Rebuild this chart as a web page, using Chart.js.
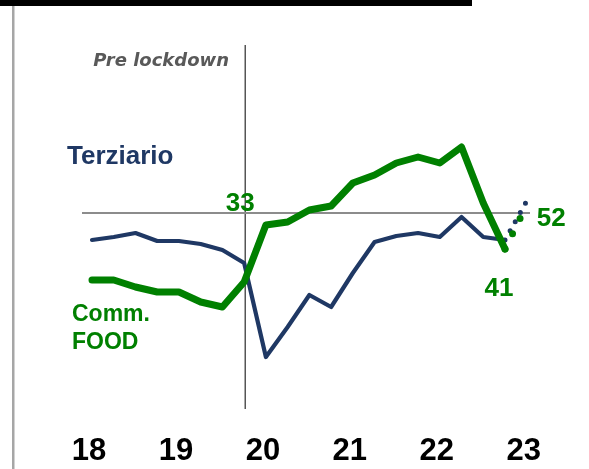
<!DOCTYPE html>
<html><head><meta charset="utf-8">
<script src="https://cdn.jsdelivr.net/npm/chart.js@4.4.0/dist/chart.umd.min.js"></script>
<style>html,body{margin:0;padding:0;background:#fff;overflow:hidden}</style>
</head><body>
<canvas id="c" width="589" height="469"></canvas>
<script>
// quarterly index: 0 = Q1 2018 ... 19 = Q4 2022, 20 = Q1 2023
const yearLabels = ['18','19','20','21','22','23'];
const yearTicks = [0, 4, 8, 12, 16, 20];
const commFood = [33.25,33.25,31.5,30.25,30.25,27.75,26.5,32.75,47,47.75,50.75,51.75,57.5,59.5,62.5,64,62.5,66.5,52.5,41];
const terziario = [43.25,44,45,43,43,42.25,40.75,37.5,14,21.5,29.5,26.5,35,42.75,44.25,45,44,49,44,43.25];
const projQuarter = 20;
const commFoodProj = 52;
const terziarioProj = 53;
const refLevel = 50;
const lockdownQuarter = 7.05;
const preLockIndex = 7;

const GREEN = '#008000', NAVY = '#1F3864';
const toXY = arr => arr.map((v, i) => ({x: i, y: v}));
const last = commFood.length - 1;

const deco = {
  id: 'deco',
  beforeDraw(chart) {
    const c = chart.ctx;
    c.save();
    c.fillStyle = '#000';
    c.fillRect(0, 0, 472, 6);
    c.fillStyle = '#a6a6a6';
    c.fillRect(12, 6, 2.5, 463);
    c.restore();
  },
  afterDraw(chart) {
    const c = chart.ctx, xs = chart.scales.x, ys = chart.scales.y;
    c.save();
    c.textBaseline = 'alphabetic';
    c.fillStyle = '#595959';
    c.font = 'italic bold 18px "DejaVu Sans"';
    c.textAlign = 'right';
    c.fillText('Pre lockdown', 229, 66);
    c.textAlign = 'left';
    c.fillStyle = NAVY;
    c.font = 'bold 26px "Liberation Sans"';
    c.fillText('Terziario', 67, 164);
    c.fillStyle = GREEN;
    c.font = 'bold 23px "Liberation Sans"';
    c.fillText('Comm.', 72, 321);
    c.fillText('FOOD', 72, 349);
    c.font = 'bold 26px "Liberation Sans"';
    c.textAlign = 'center';
    c.fillText(String(Math.round(commFood[preLockIndex])), xs.getPixelForValue(preLockIndex) - 4, ys.getPixelForValue(refLevel) - 2);
    c.fillText(String(Math.round(commFood[last])), xs.getPixelForValue(last) - 6, ys.getPixelForValue(commFood[last]) + 47);
    c.textAlign = 'left';
    c.fillText(String(commFoodProj), xs.getPixelForValue(projQuarter) + 10, ys.getPixelForValue(commFoodProj) + 21);
    c.restore();
  }
};

new Chart(document.getElementById('c'), {
  type: 'line',
  data: {
    datasets: [
      {data: toXY(commFood), borderColor: GREEN, borderWidth: 7, borderCapStyle: 'round', borderJoinStyle: 'round', pointRadius: 0, tension: 0},
      {data: [{x: last, y: commFood[last]}, {x: projQuarter, y: commFoodProj}], borderColor: GREEN, borderWidth: 7, borderCapStyle: 'round', borderDash: [0, 17], pointRadius: 0},
      {data: toXY(terziario), borderColor: NAVY, borderWidth: 4.2, borderCapStyle: 'round', borderJoinStyle: 'round', pointRadius: 0, tension: 0},
      {data: [{x: last, y: terziario[last]}, {x: projQuarter, y: terziarioProj}], borderColor: NAVY, borderWidth: 5, borderCapStyle: 'round', borderDash: [0, 10.5], pointRadius: 0},
      {data: [{x: -0.46, y: refLevel}, {x: 20.15, y: refLevel}], borderColor: '#8c8c8c', borderWidth: 2, pointRadius: 0},
      {data: [{x: lockdownQuarter, y: 1}, {x: lockdownQuarter, y: 92}], borderColor: '#555', borderWidth: 1.5, pointRadius: 0}
    ]
  },
  options: {
    responsive: false,
    animation: false,
    devicePixelRatio: 1,
    layout: {padding: {left: 82, right: 59, top: 45, bottom: 0}},
    plugins: {legend: {display: false}, tooltip: {enabled: false}},
    scales: {
      x: {
        type: 'linear', min: -0.46, max: 20.15,
        grid: {display: false, drawTicks: false},
        border: {display: false},
        afterBuildTicks: s => { s.ticks = yearTicks.map(v => ({value: v})); },
        afterFit: s => { s.height = 60; },
        ticks: {
          padding: 24, color: '#000', autoSkip: false, maxRotation: 0, labelOffset: -3,
          font: {family: '"Liberation Sans"', size: 31, weight: 'bold', lineHeight: 1.2},
          callback: (v) => yearLabels[yearTicks.indexOf(v)]
        }
      },
      y: {type: 'linear', min: 1, max: 92, display: false}
    }
  },
  plugins: [deco]
});
</script>
</body></html>
